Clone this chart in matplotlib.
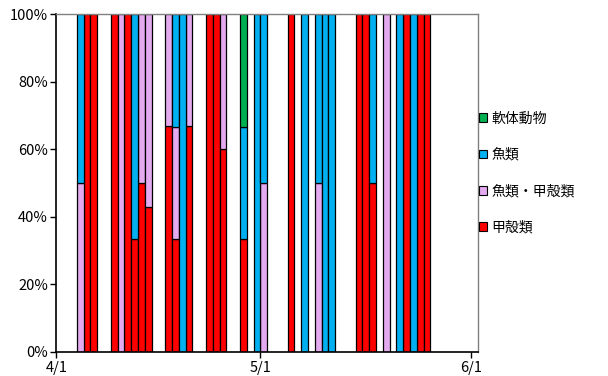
import numpy as np
import matplotlib
matplotlib.use("Agg")
import matplotlib.pyplot as plt
import matplotlib.dates as mdates
from matplotlib.patches import Patch
from datetime import date

plt.rcParams['font.family'] = ['Noto Sans CJK JP', 'DejaVu Sans']

# Sampling days (month, day)
days = [(4, 4), (4, 5), (4, 6), (4, 9), (4, 10), (4, 11), (4, 12), (4, 13), (4, 14),
        (4, 17), (4, 18), (4, 19), (4, 20), (4, 23), (4, 24), (4, 25), (4, 28),
        (4, 30), (5, 1), (5, 5), (5, 7), (5, 9), (5, 10), (5, 11), (5, 15), (5, 16),
        (5, 17), (5, 19), (5, 21), (5, 22), (5, 23), (5, 24), (5, 25)]

# Share of prey type per day (%)
crustacea = [0, 100, 100, 100, 0, 100, 33.3, 50, 42.9, 66.7, 33.3, 0, 66.7, 100, 100, 60,
             33.3, 0, 0, 100, 0, 0, 0, 0, 100, 100, 50, 0, 0, 100, 0, 100, 100]
fish_crustacea = [50, 0, 0, 0, 100, 0, 0, 50, 57.1, 33.3, 33.3, 0, 33.3, 0, 0, 40,
                  0, 0, 50, 0, 0, 50, 0, 0, 0, 0, 0, 100, 0, 0, 0, 0, 0]
fish = [50, 0, 0, 0, 0, 0, 66.7, 0, 0, 0, 33.3, 100, 0, 0, 0, 0,
        33.3, 100, 50, 0, 100, 50, 100, 100, 0, 0, 50, 0, 100, 0, 100, 0, 0]
mollusca = [0, 0, 0, 0, 0, 0, 0, 0, 0, 0, 0, 0, 0, 0, 0, 0,
            33.4, 0, 0, 0, 0, 0, 0, 0, 0, 0, 0, 0, 0, 0, 0, 0, 0]

series_names = ['甲殻類', '魚類・甲殻類', '魚類', '軟体動物']
series_colors = ['#FF0000', '#E4AAF0', '#00B0F0', '#00B050']
tick_labels = ['4/1', '5/1', '6/1']

YEAR = 2010
x = np.array([mdates.date2num(date(YEAR, m, d)) for m, d in days])

fig = plt.figure(figsize=(6.08, 3.76), dpi=100)
ax = fig.add_axes([56.3 / 608, 1 - 351.7 / 376, (478 - 56.3) / 608, (351.7 - 14) / 376])

bottom = np.zeros(len(x))
for vals, color in zip([crustacea, fish_crustacea, fish, mollusca], series_colors):
    v = np.array(vals, dtype=float)
    m = v > 0
    ax.bar(x[m], v[m], bottom=bottom[m], width=1.0, align='edge',
           color=color, edgecolor='black', linewidth=0.9)
    bottom += v

x0 = mdates.date2num(date(YEAR, 4, 1))
x1 = mdates.date2num(date(YEAR, 6, 2))
ax.set_xlim(x0, x1)
ax.set_ylim(0, 100)

tick_pos = [mdates.date2num(date(YEAR, int(t.split('/')[0]), int(t.split('/')[1]))) for t in tick_labels]
ax.set_xticks(tick_pos)
ax.set_xticklabels(tick_labels)
ax.set_yticks(np.arange(0, 101, 20))
ax.set_yticklabels([f'{v}%' for v in range(0, 101, 20)])

ax.tick_params(axis='both', direction='out', length=4, width=1, color='black',
               labelsize=10.5, pad=2)
ax.tick_params(axis='x', pad=3)
for side in ['left', 'bottom']:
    ax.spines[side].set_color('black')
    ax.spines[side].set_linewidth(1.2)
for side in ['top', 'right']:
    ax.spines[side].set_color('#808080')
    ax.spines[side].set_linewidth(1.0)

handles = [Patch(facecolor=c, edgecolor='black', linewidth=0.8)
           for c in series_colors[::-1]]
fig.legend(handles, series_names[::-1], loc='center left',
           bbox_to_anchor=(473 / 608, 1 - 173 / 376), frameon=False,
           fontsize=10, handlelength=0.6, handleheight=0.6, handletextpad=0.3,
           labelspacing=1.6, borderaxespad=0)

fig.savefig('out.png', dpi=100)
